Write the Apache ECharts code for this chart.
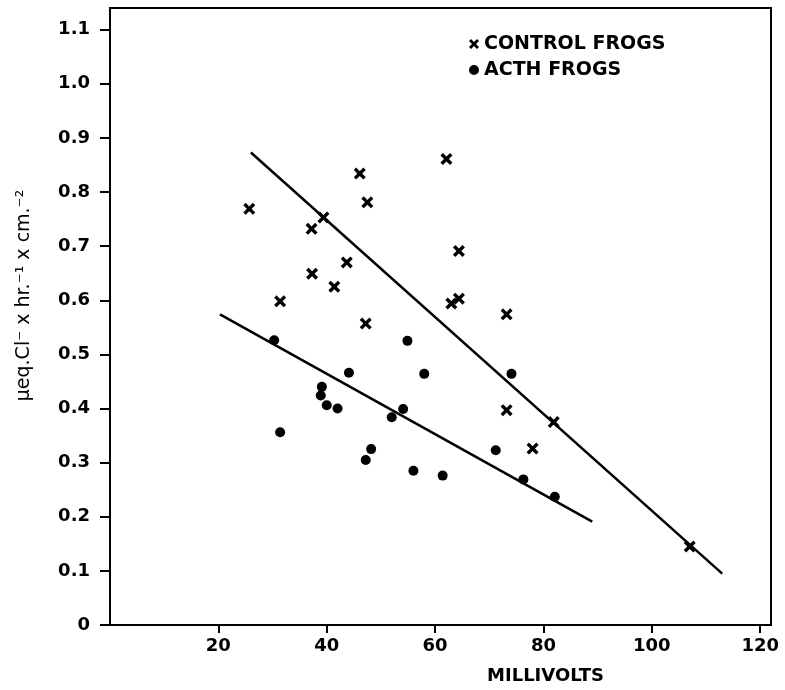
<!DOCTYPE html>
<html>
<head>
<meta charset="utf-8">
<script src="https://cdn.jsdelivr.net/npm/echarts@6/dist/echarts.min.js"></script>
<style>html,body{margin:0;padding:0;background:#fff;}#c{width:785px;height:690px;}</style>
</head>
<body>
<div id="c"></div>
<script>
// Control frogs (x markers): [millivolts, µeq]
var controlX = [25.7, 31.4, 37.2, 39.4, 37.3, 43.7, 41.4, 46.1, 47.5, 47.2, 62.1, 64.4, 64.4, 63.0, 73.2, 73.2, 81.9, 78.0, 107.0];
var controlY = [0.769, 0.598, 0.732, 0.753, 0.649, 0.670, 0.625, 0.834, 0.781, 0.557, 0.861, 0.691, 0.603, 0.594, 0.574, 0.397, 0.375, 0.326, 0.145];
// ACTH frogs (dots)
var acthX = [30.3, 31.4, 39.1, 38.9, 40.0, 42.0, 44.1, 47.2, 48.2, 52.0, 54.1, 54.9, 56.0, 58.0, 61.4, 71.2, 74.1, 76.3, 82.1];
var acthY = [0.526, 0.356, 0.440, 0.424, 0.406, 0.400, 0.466, 0.305, 0.325, 0.384, 0.399, 0.525, 0.285, 0.464, 0.276, 0.323, 0.464, 0.269, 0.237];
// Regression line end points
var controlLineX = [26.0, 113.0];
var controlLineY = [0.873, 0.095];
var acthLineX = [20.3, 89.0];
var acthLineY = [0.574, 0.191];
// Tick labels
var xTickValues = [20, 40, 60, 80, 100, 120];
var xTickLabels = ['20', '40', '60', '80', '100', '120'];
var yTickValues = [0, 0.1, 0.2, 0.3, 0.4, 0.5, 0.6, 0.7, 0.8, 0.9, 1.0, 1.1];
var yTickLabels = ['0', '0.1', '0.2', '0.3', '0.4', '0.5', '0.6', '0.7', '0.8', '0.9', '1.0', '1.1'];

function zip(a, b) { return a.map(function (v, i) { return [v, b[i]]; }); }

var crossPath = 'path://M2,0 L5,3 L8,0 L10,2 L7,5 L10,8 L8,10 L5,7 L2,10 L0,8 L3,5 L0,2 Z';
var font = 'DejaVu Sans';

var chart = echarts.init(document.getElementById('c'), null, {renderer: 'canvas'});
chart.setOption({
  backgroundColor: '#fff',
  animation: false,
  grid: {left: 110, right: 14, top: 8, bottom: 64, show: true, borderColor: '#000', borderWidth: 2, backgroundColor: 'transparent'},
  legend: {
    orient: 'vertical', left: 464, top: 29, itemWidth: 10, itemHeight: 10, itemGap: 6,
    selectedMode: false,
    textStyle: {fontFamily: font, fontWeight: 'bold', fontSize: 19, color: '#000', lineHeight: 20},
    data: [
      {name: 'CONTROL FROGS', icon: crossPath},
      {name: 'ACTH FROGS', icon: 'circle'}
    ]
  },
  xAxis: {
    type: 'value', min: 0, max: 122, interval: 20,
    splitLine: {show: false},
    axisLine: {lineStyle: {color: '#000', width: 2}},
    axisTick: {show: true, length: 8, lineStyle: {color: '#000', width: 2}, customValues: xTickValues},
    axisLabel: {
      customValues: xTickValues, margin: 12,
      fontFamily: font, fontWeight: 'bold', fontSize: 18, color: '#000',
      formatter: function (v) { var i = xTickValues.indexOf(Math.round(v)); return i >= 0 ? xTickLabels[i] : ''; }
    },
    name: 'MILLIVOLTS', nameLocation: 'middle', nameGap: 42,
    nameTextStyle: {fontFamily: font, fontWeight: 'bold', fontSize: 18, color: '#000', padding: [0, 0, 0, 210]}
  },
  yAxis: {
    type: 'value', min: 0, max: 1.14, interval: 0.1,
    splitLine: {show: false},
    axisLine: {lineStyle: {color: '#000', width: 2}},
    axisTick: {show: true, length: 10, lineStyle: {color: '#000', width: 2}, customValues: yTickValues},
    axisLabel: {
      customValues: yTickValues, margin: 20,
      fontFamily: font, fontWeight: 'bold', fontSize: 18, color: '#000',
      formatter: function (v) { var i = Math.round(v * 10); return yTickLabels[i] !== undefined && Math.abs(v * 10 - i) < 1e-6 ? yTickLabels[i] : ''; }
    },
    name: 'µeq.Cl⁻ x hr.⁻¹ x cm.⁻²', nameLocation: 'middle', nameGap: 76,
    nameTextStyle: {fontFamily: font, fontSize: 19, color: '#000', padding: [0, 0, 0, 42]}
  },
  series: [
    {
      name: 'CONTROL FROGS', type: 'scatter', symbol: crossPath, symbolSize: 12,
      itemStyle: {color: '#000', opacity: 1}, data: zip(controlX, controlY), z: 3
    },
    {
      name: 'ACTH FROGS', type: 'scatter', symbol: 'circle', symbolSize: 10,
      itemStyle: {color: '#000', opacity: 1}, data: zip(acthX, acthY), z: 3
    },
    {
      name: 'control fit', type: 'line', showSymbol: false, symbol: 'none', silent: true,
      lineStyle: {color: '#000', width: 2.5}, data: zip(controlLineX, controlLineY), z: 2
    },
    {
      name: 'acth fit', type: 'line', showSymbol: false, symbol: 'none', silent: true,
      lineStyle: {color: '#000', width: 2.5}, data: zip(acthLineX, acthLineY), z: 2
    }
  ]
});
</script>
</body>
</html>
